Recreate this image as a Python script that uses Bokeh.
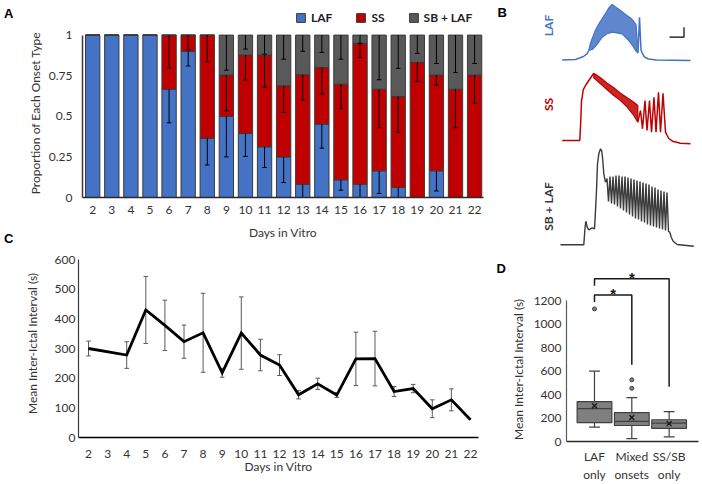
import math
from bokeh.plotting import figure
from bokeh.models import (ColumnDataSource, Range1d, FixedTicker, Legend, LegendItem)
from bokeh.layouts import row, column
from bokeh.embed import file_html
from bokeh.resources import INLINE
from bokeh.core.properties import value

FONT = "Lato"
PANEL_FONT = "Liberation Sans"
TXT = "#333333"
BLUE = "#4472C4"
RED = "#C00000"
GRAY = "#595959"
DARK = "#404040"

# ---------------- Panel A data ----------------
days = list(range(2, 23))
laf_frac = [1, 1, 1, 1, 0.667, 0.90, 0.365, 0.50, 0.394, 0.312, 0.25, 0.082,
            0.452, 0.109, 0.082, 0.164, 0.062, 0, 0.164, 0, 0]
ss_frac = [0, 0, 0, 0, 0.333, 0.10, 0.635, 0.254, 0.483, 0.565, 0.438, 0.674,
           0.348, 0.589, 0.867, 0.503, 0.560, 0.832, 0.590, 0.667, 0.754]
sb_frac = [0, 0, 0, 0, 0, 0, 0, 0.246, 0.123, 0.123, 0.312, 0.244,
           0.20, 0.302, 0.051, 0.333, 0.378, 0.168, 0.246, 0.333, 0.246]
laf_err = [0, 0, 0, 0, 0.207, 0.09, 0.165, 0.25, 0.141, 0.127, 0.158, 0.082,
           0.148, 0.064, 0.082, 0.139, 0.062, 0, 0.124, 0, 0]
ss_err = [0, 0, 0, 0, 0.203, 0.09, 0.164, 0.22, 0.154, 0.197, 0.164, 0.156,
          0.163, 0.15, 0.087, 0.237, 0.222, 0.117, 0.062, 0.237, 0.174]
sb_err = [0, 0, 0, 0, 0, 0, 0, 0.216, 0.086, 0.117, 0.148, 0.10,
          0.107, 0.148, 0.05, 0.275, 0.205, 0.113, 0.175, 0.23, 0.175]
a_ticks = [0, 0.25, 0.5, 0.75, 1]
a_tick_labels = ["0", "0.25", "0.5", "0.75", "1"]
onset_types = ["LAF", "SS", "SB + LAF"]

# ---------------- Panel C data ----------------
c_days = [2, 4, 5, 6, 7, 8, 9, 10, 11, 12, 13, 14, 15, 16, 17, 18, 19, 20, 21, 22]
c_mean = [300, 278, 430, 378, 323, 353, 218, 352, 278, 244, 144, 181, 143,
          265, 266, 155, 165, 97, 127, 60]
c_err = [25, 45, 113, 85, 56, 133, 15, 122, 53, 35, 14, 19, 8,
         90, 92, 17, 14, 30, 37, 0]
c_ticks = [0, 100, 200, 300, 400, 500, 600]

# ---------------- Panel D data ----------------
groups = ["LAF\nonly", "Mixed\nonsets", "SS/SB\nonly"]
g_pos = [1, 2, 3]
q1 = [160, 136, 111]
med = [280, 171, 157]
q3 = [340, 246, 185]
w_lo = [122, 25, 39]
w_hi = [599, 373, 254]
g_mean = [305, 204, 152]
out_x = [1, 2, 2]
out_y = [1129, 453, 525]
d_ticks = [0, 200, 400, 600, 800, 1000, 1200]
sig_from = [1, 1]
sig_to = [2, 3]
sig_level = [1247, 1386]
sig_left_end = [1187, 1325]
sig_right_end = [654, 467]

# ---------------- Panel B traces (time, amplitude above baseline) ----------------
laf_rise_t = [0.7, 14, 18, 22, 25.7, 27.3]
laf_rise_v = [0, 0.5, 2, 3.5, 6.3, 9.5]
laf_up_t = [27.3, 29, 31.7, 34, 37.3, 40.7, 44, 47.3, 50.7, 54, 59, 64, 69, 72, 74.5, 75.7]
laf_up_v = [9.5, 17, 24, 30, 36, 41.5, 46.5, 52, 55.5, 53, 49.5, 45.5, 42, 39, 35.5, 20]
laf_lo_t = [27.3, 30.7, 34, 37.3, 40.7, 45, 50.7, 60.7, 67.3, 72, 74, 75.7]
laf_lo_v = [9.5, 10.5, 14, 18, 22.8, 26, 27.8, 26.2, 19.5, 13, 9.5, 7.8]
laf_tail_t = [75.7, 76.5, 78, 79.5, 81, 83, 87, 95, 129]
laf_tail_v = [7.8, 7, 42.8, 10, 6.3, 3, 1, 0, -0.5]

ss_rise_t = [0.7, 18.3, 19.3, 20, 20.7, 21.7, 24, 27.3, 30.7, 32.3]
ss_rise_v = [0, 0, 20, 40, 43.3, 50.7, 55, 60, 65, 67.3]
ss_up_t = [32.3, 39, 45.7, 52.3, 59, 65.7, 72.3, 76.3]
ss_up_v = [67.3, 62.7, 57.3, 52.7, 47.3, 42.7, 38.3, 35]
ss_lo_t = [32.3, 39, 45.7, 52.3, 59, 65.7, 72.3, 76.3]
ss_lo_v = [62.7, 56.7, 50.7, 45, 40, 33.3, 25, 18.3]
ss_tail_t = [76.3, 79, 81, 83.5, 85.5, 88, 90, 92.5, 94.5, 97, 99, 101.5, 104,
             105.7, 107.3, 111, 119, 129]
ss_tail_v = [18.3, 30, 11.7, 40, 10, 40, 8.3, 43.3, 8.3, 48.3, 8.3, 47.3, 8.3,
             5, 2, -0.7, -2.7, -3.3]

sb_rise_t = [-1, 22.3, 23.3, 24.3, 25.7, 27.3, 30.7, 33, 34, 35, 36, 37.3, 39, 40.3, 41.3, 42.3, 44]
sb_rise_v = [0, 0, 14.3, 23.6, 17.6, 15, 17, 16, 34.3, 54.3, 81, 91, 96, 93.6, 84.3, 71, 62.6]
sb_peak_t = [45.5, 48.5, 51.5, 54.5, 57.5, 60.5, 63.5, 66.5, 69.5, 72.5, 75.5,
             78.5, 81.5, 84.5, 87.5, 90.5, 93.5, 96.5, 99.5, 102.5, 105.5]
sb_peak_v = [66.3, 68.3, 68.3, 69.3, 69.3, 68.3, 68.3, 67.3, 66.3, 65.3, 64.3,
             63.3, 62.3, 61.3, 60.3, 58.3, 57.3, 55.3, 54.3, 53.3, 52.3]
sb_trough_t = [47, 50, 53, 56, 59, 62, 65, 68, 71, 74, 77, 80, 83, 86, 89, 92,
               95, 98, 101, 104, 107]
sb_trough_v = [43.3, 41.3, 40.3, 38.3, 36.3, 34.3, 32.3, 30.3, 28.3, 26.3, 25.3,
               23.3, 22.3, 20.3, 19.3, 18.3, 17.3, 16.3, 15.3, 14.3, 13.3]
sb_tail_t = [107, 108.3, 109.7, 111.7, 115.7, 132.3]
sb_tail_v = [13.3, 12.6, 7.6, 3.6, 0.3, -1.4]
trace_base = [-59.5, -140, -244.3]
scalebar_t = [108, 122.5, 122.5]
scalebar_v = [-36.7, -36.7, -26.7]


def style_axis(ax, size="12px"):
    ax.major_tick_line_color = None
    ax.minor_tick_line_color = None
    ax.major_tick_out = 0
    ax.major_tick_in = 0
    ax.major_label_text_font = FONT
    ax.major_label_text_font_size = size
    ax.major_label_text_color = TXT
    ax.axis_label_text_font = FONT
    ax.axis_label_text_font_size = size
    ax.axis_label_text_font_style = "normal"
    ax.axis_label_text_color = TXT


def base_fig(**kw):
    p = figure(output_backend="svg", toolbar_location=None, frame_align=False, **kw)
    p.outline_line_color = None
    p.grid.visible = False
    p.background_fill_color = None
    p.border_fill_color = None
    return p


def strip_fig(w, h):
    # a figure used only to hold texts; its data range equals its own pixel box
    return base_fig(width=w, height=h, x_range=Range1d(0, w), y_range=Range1d(h, 0),
                    min_border=0, x_axis_location=None, y_axis_location=None)


# ================= left text strip (panel letters, y titles) =================
pLet = strip_fig(42, 484)
pLet.text(x=[8.3, 8.3], y=[12.8, 238], text=["A", "C"], text_font=value(PANEL_FONT),
          text_font_style="bold", text_font_size="13px", text_color="black",
          text_align="center", text_baseline="middle")
pLet.text(x=[35, 31.7], y=[112.5, 343],
          text=["Proportion of Each Onset Type", "Mean Inter-Ictal Interval (s)"],
          angle=math.pi / 2, text_font=value(FONT), text_font_size="12px", text_color=TXT,
          text_align="center", text_baseline="middle")

# ================= Panel A =================
pA = base_fig(width=452, height=242, x_range=Range1d(1.466, 22.466), y_range=Range1d(0, 1.2131),
              min_border_left=40, min_border_right=11, min_border_top=0, min_border_bottom=45)
srcA = ColumnDataSource(dict(day=days, LAF=laf_frac, SS=ss_frac, SB=sb_frac))
rs = pA.vbar_stack(["LAF", "SS", "SB"], x="day", width=0.75, source=srcA,
                   fill_color=[BLUE, RED, GRAY], line_color="#3a3a3a", line_width=1)

ex, etop, ebot = [], [], []
for i, d in enumerate(days):
    tops = [laf_frac[i], laf_frac[i] + ss_frac[i], 1.0]
    errs = [laf_err[i], ss_err[i], sb_err[i]]
    for t, e in zip(tops, errs):
        if e > 0:
            ex.append(d)
            etop.append(t)
            ebot.append(t - e)
pA.segment(x0=ex, y0=etop, x1=ex, y1=ebot, line_color="black", line_width=1)
pA.segment(x0=[x - 0.12 for x in ex], y0=ebot, x1=[x + 0.12 for x in ex], y1=ebot,
           line_color="black", line_width=1)

xa = pA.xaxis[0]
style_axis(xa)
xa.ticker = FixedTicker(ticks=days)
xa.axis_label = "Days in Vitro"
xa.axis_line_color = "#2a2a2a"
xa.axis_line_width = 1.5
xa.major_label_standoff = 8
xa.axis_label_standoff = 8
ya = pA.yaxis[0]
style_axis(ya)
ya.ticker = FixedTicker(ticks=a_ticks)
ya.bounds = (0, 1)
ya.major_label_overrides = {k: v for k, v in zip(a_ticks, a_tick_labels)}
ya.axis_line_color = "#3a3a3a"
ya.axis_line_width = 1.5
ya.major_label_standoff = 10

legA = Legend(items=[LegendItem(label=n, renderers=[r]) for n, r in zip(onset_types, rs)],
              orientation="horizontal", location=(213, 172), glyph_width=11, glyph_height=11,
              label_standoff=5, spacing=23, padding=0, margin=0, border_line_color=None,
              background_fill_alpha=0, label_text_font=FONT, label_text_font_style="bold",
              label_text_font_size="12px", label_height=12, label_width=0,
              label_text_color="#222222")
pA.add_layout(legA)

# ================= Panel C =================
pC = base_fig(width=452, height=242, x_range=Range1d(1.476, 22.42), y_range=Range1d(0, 600),
              min_border_left=36, min_border_right=16, min_border_top=17, min_border_bottom=47)
c_lo = [m - e for m, e in zip(c_mean, c_err)]
c_hi = [m + e for m, e in zip(c_mean, c_err)]
ce = [i for i, e in enumerate(c_err) if e > 0]
cx = [c_days[i] for i in ce]
pC.segment(x0=cx, y0=[c_lo[i] for i in ce], x1=cx, y1=[c_hi[i] for i in ce],
           line_color="#5a5a5a", line_width=1)
for arr in (c_lo, c_hi):
    pC.segment(x0=[x - 0.12 for x in cx], y0=[arr[i] for i in ce],
               x1=[x + 0.12 for x in cx], y1=[arr[i] for i in ce],
               line_color="#5a5a5a", line_width=1)
pC.line(c_days, c_mean, line_color="black", line_width=2.8, line_join="miter")

xc = pC.xaxis[0]
style_axis(xc)
xc.ticker = FixedTicker(ticks=days)
xc.axis_label = "Days in Vitro"
xc.axis_line_color = "black"
xc.axis_line_width = 1.5
xc.major_label_standoff = 12
xc.axis_label_standoff = -2
yc = pC.yaxis[0]
style_axis(yc)
yc.ticker = FixedTicker(ticks=c_ticks)
yc.axis_line_color = "#3a3a3a"
yc.axis_line_width = 1.2
yc.major_label_standoff = 3

# ================= Panel B =================
pB = base_fig(width=208, height=252, x_range=Range1d(-67, 141), y_range=Range1d(-252, 0),
              min_border=0, x_axis_location=None, y_axis_location=None)
specs = [
    (BLUE, trace_base[0], [(laf_rise_t, laf_rise_v), (laf_tail_t, laf_tail_v)], (laf_up_t, laf_up_v, laf_lo_t, laf_lo_v)),
    (RED, trace_base[1], [(ss_rise_t, ss_rise_v), (ss_tail_t, ss_tail_v)], (ss_up_t, ss_up_v, ss_lo_t, ss_lo_v)),
]
for col, base, lines, env in specs:
    for tt, vv in lines:
        pB.line(tt, [base + v for v in vv], line_color=col, line_width=1.5)
    ut, uv, lt, lv = env
    pB.patch(ut + lt[::-1], [base + v for v in uv] + [base + v for v in lv[::-1]],
             fill_color=col, line_color=col, line_width=1.2, fill_alpha=0.85)

sb_osc_t, sb_osc_v = [], []
for a, b, c, d in zip(sb_peak_t, sb_peak_v, sb_trough_t, sb_trough_v):
    sb_osc_t += [a, c]
    sb_osc_v += [b, d]
sb_all_t = sb_rise_t + sb_osc_t + sb_tail_t
sb_all_v = sb_rise_v + sb_osc_v + sb_tail_v
pB.line(sb_all_t, [trace_base[2] + v for v in sb_all_v], line_color="#3a3a3a", line_width=1.4)
pB.line(scalebar_t, scalebar_v, line_color="black", line_width=1.2)
pB.text(x=[-12.7, -12.7, -12.7], y=[-25, -104, -206], text=onset_types,
        text_color=[BLUE, RED, "#3a3a3a"], angle=math.pi / 2,
        text_font=value(FONT), text_font_style="bold", text_font_size="12px",
        text_align="center", text_baseline="middle")
pB.text(x=[-59.3], y=[-12], text=["B"], text_font=value(PANEL_FONT), text_font_style="bold",
        text_font_size="13px", text_align="center", text_baseline="middle", text_color="black")

# ================= Panel D =================
pDlab = strip_fig(36, 232)
pDlab.text(x=[6.7], y=[16.3], text=["D"], text_font=value(PANEL_FONT), text_font_style="bold",
           text_font_size="13px", text_color="black", text_align="center", text_baseline="middle")
pDlab.text(x=[24], y=[117], text=["Mean Inter-Ictal Interval (s)"], angle=math.pi / 2,
           text_font=value(FONT), text_font_size="12px", text_color=TXT,
           text_align="center", text_baseline="middle")

pD = base_fig(width=172, height=232, x_range=Range1d(0.25, 3.787), y_range=Range1d(0, 1609),
              min_border_left=35, min_border_right=4, min_border_top=0, min_border_bottom=38)
bw = 0.93
cw = 0.145
pD.segment(x0=g_pos, y0=q3, x1=g_pos, y1=w_hi, line_color=DARK, line_width=1.2)
pD.segment(x0=g_pos, y0=w_lo, x1=g_pos, y1=q1, line_color=DARK, line_width=1.2)
pD.segment(x0=[x - cw for x in g_pos], y0=w_hi, x1=[x + cw for x in g_pos], y1=w_hi, line_color=DARK, line_width=1.2)
pD.segment(x0=[x - cw for x in g_pos], y0=w_lo, x1=[x + cw for x in g_pos], y1=w_lo, line_color=DARK, line_width=1.2)
pD.vbar(x=g_pos, bottom=q1, top=q3, width=bw, fill_color="#7f7f7f", line_color=DARK, line_width=1.2)
pD.segment(x0=[x - bw / 2 for x in g_pos], y0=med, x1=[x + bw / 2 for x in g_pos], y1=med,
           line_color=DARK, line_width=1.2)
pD.scatter(g_pos, g_mean, marker="x", size=7, line_color="#1a1a1a", line_width=1.4)
pD.scatter(out_x, out_y, marker="circle", size=4, fill_color="#7f7f7f", line_color=DARK)
bx = [[a, a, b, b] for a, b in zip(sig_from, sig_to)]
by = [[le, lv, lv, re] for le, lv, re in zip(sig_left_end, sig_level, sig_right_end)]
pD.multi_line(bx, by, line_color="#1a1a1a", line_width=1.5)
pD.text(x=[(a + b) / 2 for a, b in zip(sig_from, sig_to)], y=[lv + 13 for lv in sig_level],
        text=["*", "*"], text_font=value(PANEL_FONT), text_font_style="bold",
        text_font_size="15px", text_align="center", text_baseline="middle", text_color="#1a1a1a")

xd = pD.xaxis[0]
style_axis(xd)
xd.ticker = FixedTicker(ticks=g_pos)
xd.major_label_overrides = {k: v for k, v in zip(g_pos, groups)}
xd.axis_line_color = "#2a2a2a"
xd.axis_line_width = 1.5
xd.major_label_standoff = 7
yd = pD.yaxis[0]
style_axis(yd)
yd.ticker = FixedTicker(ticks=d_ticks)
yd.bounds = (0, 1200)
yd.axis_line_color = "#5a5a5a"
yd.axis_line_width = 1.2
yd.major_label_standoff = 5

layout = row(pLet, column(pA, pC), column(pB, row(pDlab, pD)))
open("out.html", "w").write(file_html(layout, INLINE))
